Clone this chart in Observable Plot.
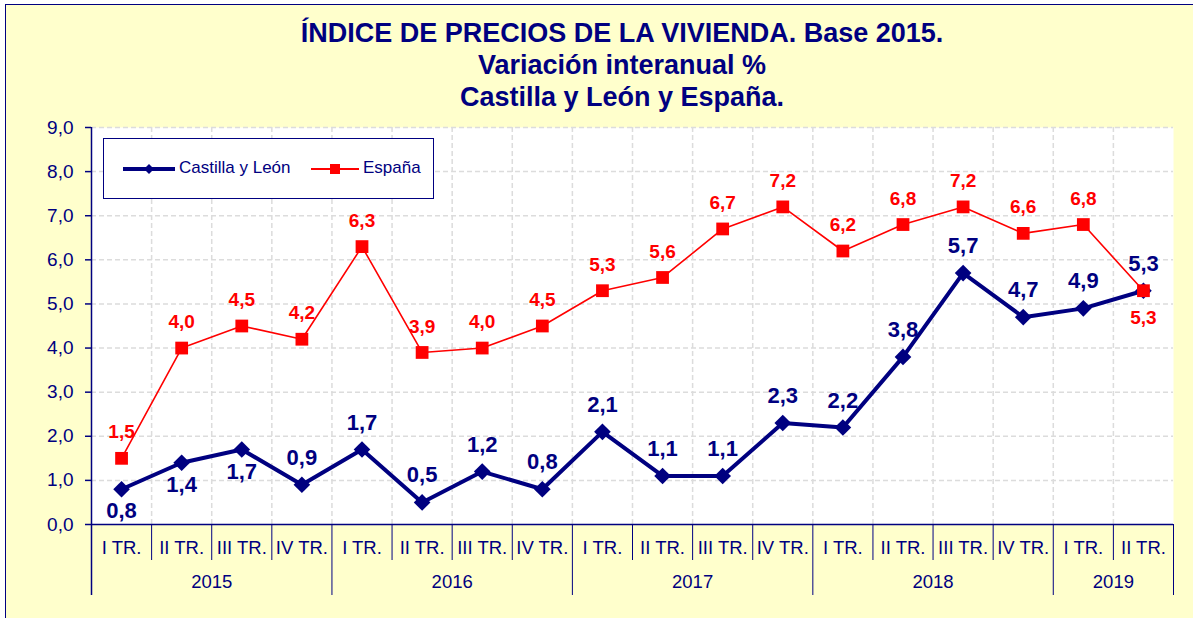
<!DOCTYPE html>
<html>
<head>
<meta charset="utf-8">
<script src="https://cdn.jsdelivr.net/npm/d3@7"></script>
<script src="https://cdn.jsdelivr.net/npm/@observablehq/plot@0.6"></script>
<style>
  html, body { margin: 0; padding: 0; background: #ffffff; overflow: hidden; }
  body { width: 1193px; height: 618px; position: relative; font-family: "Liberation Sans", Arial, sans-serif; }
  #bg { position: absolute; left: 5px; top: 4px; width: 1200px; height: 640px; background: #FFFFCC; border: 1.5px solid #000080; }
  #chart { position: absolute; left: 0; top: 0; }
  #title { position: absolute; left: 122px; width: 1000px; top: 17px; text-align: center; color: #000080; font-weight: bold; font-size: 27px; line-height: 32px; }
  #legend { position: absolute; left: 103px; top: 138px; width: 331px; height: 61px; background: #fff; border: 1px solid #000080; box-sizing: border-box; }
  #legend svg { position: absolute; left: 0; top: 0; }
  #legend span { position: absolute; top: 19px; font-size: 17px; color: #000080; line-height: 20px; }
</style>
</head>
<body>
<div id="bg"></div>
<div id="chart"></div>
<div id="title">ÍNDICE DE PRECIOS DE LA VIVIENDA. Base 2015.<br>Variación interanual %<br>Castilla y León y España.</div>
<div id="legend">
  <svg width="331" height="61">
    <line x1="19" y1="30" x2="71" y2="30" stroke="#000080" stroke-width="4"/>
    <path d="M45,25 L50,30 L45,35 L40,30 Z" fill="#000080"/>
    <line x1="207" y1="30" x2="255" y2="30" stroke="#ff0000" stroke-width="2"/>
    <rect x="226" y="25" width="10" height="10" fill="#ff0000"/>
  </svg>
  <span style="left:75px">Castilla y León</span>
  <span style="left:259px">España</span>
</div>
<script>
const quarters = ["I TR.", "II TR.", "III TR.", "IV TR.", "I TR.", "II TR.", "III TR.", "IV TR.", "I TR.", "II TR.", "III TR.", "IV TR.", "I TR.", "II TR.", "III TR.", "IV TR.", "I TR.", "II TR."];
const years = ["2015", "2016", "2017", "2018", "2019"];
const yearQuarterCounts = [4, 4, 4, 4, 2];
const castillaLeon = [0.8, 1.4, 1.7, 0.9, 1.7, 0.5, 1.2, 0.8, 2.1, 1.1, 1.1, 2.3, 2.2, 3.8, 5.7, 4.7, 4.9, 5.3];
const espana = [1.5, 4.0, 4.5, 4.2, 6.3, 3.9, 4.0, 4.5, 5.3, 5.6, 6.7, 7.2, 6.2, 6.8, 7.2, 6.6, 6.8, 5.3];
const cylLabelSide = ["below", "below", "below", "above", "above", "above", "above", "above", "above", "above", "above", "above", "above", "above", "above", "above", "above", "above"];
const espLabelSide = ["above", "above", "above", "above", "above", "above", "above", "above", "above", "above", "above", "above", "above", "above", "above", "above", "above", "below"];
const yTicks = [0, 1, 2, 3, 4, 5, 6, 7, 8, 9];

const NAVY = "#000080";
const RED = "#ff0000";
const fmt = v => v.toFixed(1).replace(".", ",");

const cyl = castillaLeon.map((v, i) => ({i: i + 0.5, v, side: cylLabelSide[i]}));
const esp = espana.map((v, i) => ({i: i + 0.5, v, side: espLabelSide[i]}));
const qLabels = quarters.map((q, i) => ({i: i + 0.5, q}));

let acc = 0;
const yearSpans = years.map((y, k) => {
  const start = acc; acc += yearQuarterCounts[k];
  return {y, start, end: acc, mid: (start + acc) / 2};
});
const yearBounds = [0, ...yearSpans.map(d => d.end)];
const quarterBounds = d3.range(1, quarters.length).filter(b => !yearBounds.includes(b));

const chart = Plot.plot({
  width: 1193,
  height: 618,
  marginLeft: 91,
  marginRight: 20,
  marginTop: 127,
  marginBottom: 94,
  style: {background: "transparent", fontFamily: "'Liberation Sans', Arial, sans-serif", overflow: "visible"},
  x: {domain: [0, quarters.length], axis: null},
  y: {domain: [0, 9], axis: null},
  marks: [
    Plot.frame({fill: "white", stroke: "none"}),
    Plot.ruleY(yTicks.slice(1), {stroke: "#dcdcdc", strokeWidth: 1.5, strokeDasharray: "5,3"}),
    Plot.ruleX(d3.range(1, quarters.length), {stroke: "#dcdcdc", strokeWidth: 1.5, strokeDasharray: "5,3"}),
    Plot.axisY(yTicks, {label: null, tickFormat: fmt, tickSize: 6, tickPadding: 12, fontSize: 19, color: NAVY, stroke: NAVY, strokeWidth: 1.5}),
    Plot.ruleY([0], {stroke: NAVY, strokeWidth: 1.5}),
    Plot.ruleX([0], {y1: 9, y2: 0, insetBottom: -71, stroke: NAVY, strokeWidth: 1.5}),
    Plot.ruleX(yearBounds.slice(1), {y1: 0, y2: 0, insetBottom: -71, stroke: NAVY, strokeWidth: 1}),
    Plot.ruleX(quarterBounds, {y1: 0, y2: 0, insetBottom: -36, stroke: NAVY, strokeWidth: 1}),
    Plot.text(qLabels, {x: "i", y: () => 0, dy: 24, text: "q", fontSize: 18.5, fill: NAVY}),
    Plot.text(yearSpans, {x: "mid", y: () => 0, dy: 58, text: "y", fontSize: 18.5, fill: NAVY}),
    Plot.line(cyl, {x: "i", y: "v", stroke: NAVY, strokeWidth: 4}),
    Plot.dot(cyl, {x: "i", y: "v", symbol: "diamond2", r: 7.5, fill: NAVY, stroke: "none"}),
    Plot.line(esp, {x: "i", y: "v", stroke: RED, strokeWidth: 1.6}),
    Plot.dot(esp, {x: "i", y: "v", symbol: "square", r: 7.2, fill: RED, stroke: "none"}),
    Plot.text(cyl.filter(d => d.side === "above"), {x: "i", y: "v", dy: -27, text: d => fmt(d.v), fontSize: 22, fontWeight: "bold", fill: NAVY}),
    Plot.text(cyl.filter(d => d.side === "below"), {x: "i", y: "v", dy: 22, text: d => fmt(d.v), fontSize: 22, fontWeight: "bold", fill: NAVY}),
    Plot.text(esp.filter(d => d.side === "above"), {x: "i", y: "v", dy: -26, text: d => fmt(d.v), fontSize: 19, fontWeight: "bold", fill: RED}),
    Plot.text(esp.filter(d => d.side === "below"), {x: "i", y: "v", dy: 27, text: d => fmt(d.v), fontSize: 19, fontWeight: "bold", fill: RED})
  ]
});
document.getElementById("chart").appendChild(chart);
</script>
</body>
</html>
